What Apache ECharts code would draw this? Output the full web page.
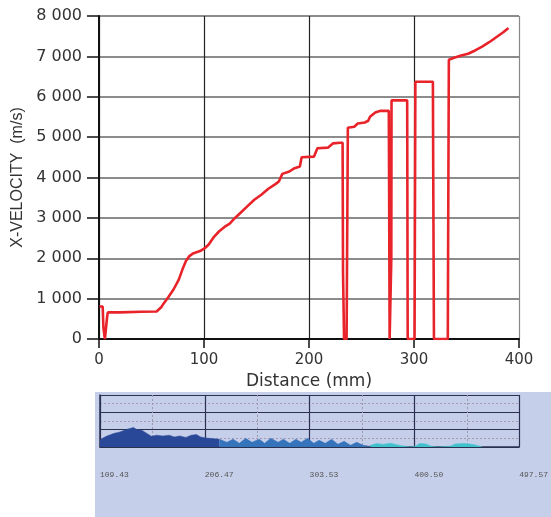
<!DOCTYPE html>
<html>
<head>
<meta charset="utf-8">
<script src="https://cdn.jsdelivr.net/npm/echarts@6/dist/echarts.min.js"></script>
<style>
html,body{margin:0;padding:0;background:#ffffff;}
#chart{width:551px;height:517px;}
</style>
</head>
<body>
<div id="chart"></div>
<script>
// ---- Main chart data: distance (mm) vs X-velocity (m/s) ----
var distance = [0.5, 3.5, 4.2, 5.2, 5.6, 7.3, 7.8, 8.4, 20, 40, 54.9, 56.1, 59.7, 61.1, 66.1, 71.1, 76.1, 79.5, 82.8, 86.1, 89.5, 96.2, 101.2, 104.5, 109.5, 114.5, 119.5, 124.5, 129.5, 134.6, 141.2, 147.9, 154.6, 161.3, 168, 171.3, 174.6, 181.3, 186.3, 191.3, 193, 204.7, 208, 218, 223, 229.7, 232, 232.4, 233, 233.4, 235.8, 236.2, 236.7, 237, 243.1, 246.4, 253.1, 256.4, 258.1, 263.1, 268.1, 276, 276.3, 276.8, 278.2, 278.4, 278.6, 293.5, 294, 300.5, 300.8, 301.3, 318, 318.3, 319, 332.2, 332.5, 333.2, 338.2, 344.9, 351.6, 358.2, 364.9, 371.6, 378.3, 385, 390];
var velocity = [805, 805, 280, 260, 0, 0, 560, 660, 660, 675, 680, 698, 800, 862, 1043, 1232, 1478, 1725, 1930, 2053, 2119, 2177, 2259, 2341, 2530, 2669, 2776, 2858, 2998, 3121, 3285, 3450, 3573, 3721, 3836, 3901, 4090, 4148, 4230, 4271, 4501, 4517, 4723, 4739, 4846, 4862, 4862, 1640, 1640, 0, 0, 1760, 1760, 5230, 5257, 5339, 5363, 5405, 5503, 5610, 5651, 5651, 3737, 0, 0, 2000, 5910, 5910, 0, 0, 2140, 6370, 6370, 4220, 0, 0, 2340, 6916, 6965, 7022, 7064, 7146, 7244, 7351, 7474, 7597, 7704];
var yTickLabels = ['0', '1 000', '2 000', '3 000', '4 000', '5 000', '6 000', '7 000', '8 000'];
var xTickLabels = ['0', '100', '200', '300', '400'];

// ---- Bottom strip data (position index 0..4, relative amplitude 0..3) ----
var stripTickLabels = ['109.43', '206.47', '303.53', '400.50', '497.57'];
var stripNavyX = [0, 0.02, 0.06, 0.13, 0.19, 0.25, 0.32, 0.35, 0.40, 0.44, 0.49, 0.54, 0.60, 0.66, 0.71, 0.76, 0.82, 0.87, 0.92, 0.96, 1.01, 1.07, 1.14];
var stripNavyY = [0.39, 0.49, 0.62, 0.78, 0.87, 1.01, 1.13, 1.01, 0.97, 0.81, 0.62, 0.68, 0.64, 0.68, 0.58, 0.64, 0.55, 0.68, 0.72, 0.58, 0.52, 0.49, 0.45];
var stripBlueX = [1.14, 1.21, 1.27, 1.33, 1.39, 1.45, 1.52, 1.57, 1.63, 1.70, 1.75, 1.81, 1.87, 1.92, 1.98, 2.04, 2.09, 2.15, 2.21, 2.27, 2.33, 2.39, 2.45, 2.51, 2.58];
var stripBlueY = [0.45, 0.27, 0.45, 0.21, 0.5, 0.27, 0.45, 0.21, 0.5, 0.27, 0.45, 0.21, 0.45, 0.27, 0.5, 0.21, 0.39, 0.21, 0.45, 0.16, 0.33, 0.1, 0.27, 0.1, 0.04];
var stripCyanX = [2.58, 2.64, 2.70, 2.77, 2.84, 2.91, 2.96, 3.01, 3.05, 3.11, 3.16, 3.22, 3.34, 3.39, 3.46, 3.53, 3.58, 3.65];
var stripCyanY = [0.1, 0.2, 0.15, 0.22, 0.12, 0.05, 0, 0.05, 0.2, 0.18, 0.05, 0, 0.05, 0.18, 0.2, 0.17, 0.12, 0];

function zip(a, b) { return a.map(function (v, i) { return [v, b[i]]; }); }

var chart = echarts.init(document.getElementById('chart'), null, { renderer: 'canvas' });
var WIDE = 'DejaVu Sans';
var NARROW = 'Liberation Sans';

var option = {
  animation: false,
  backgroundColor: '#ffffff',
  graphic: [
    { type: 'rect', z: -10, shape: { x: 95, y: 392, width: 456, height: 125 }, style: { fill: '#c5cfe9' } }
  ],
  grid: [
    { left: 99, right: 32, top: 16, bottom: 178, containLabel: false },
    { left: 100, right: 29, top: 395, height: 52, containLabel: false }
  ],
  xAxis: [
    {
      gridIndex: 0, type: 'value', min: 0, max: 400, interval: 100,
      name: 'Distance (mm)', nameLocation: 'middle', nameGap: 34,
      nameTextStyle: { fontFamily: WIDE, fontSize: 17, color: '#333' },
      axisLine: { show: true, lineStyle: { color: '#111', width: 2 } },
      axisTick: { show: true, length: 9, lineStyle: { color: '#111', width: 1.5 } },
      axisLabel: { margin: 14, fontFamily: WIDE, fontSize: 15, color: '#333',
        formatter: function (v) { return xTickLabels[Math.round(v / 100)]; } },
      splitLine: { show: true, lineStyle: { color: ['#222', '#222', '#222', '#222', '#888'], width: 1.2 } }
    },
    {
      gridIndex: 1, type: 'value', min: 0, max: 4, interval: 1,
      axisLine: { show: true, onZero: false, lineStyle: { color: '#2b3050', width: 1.5 } },
      axisTick: { show: false },
      axisLabel: { margin: 24, align: 'left', fontFamily: 'Liberation Mono', fontSize: 8, color: '#555',
        formatter: function (v) { return stripTickLabels[Math.round(v)]; }, hideOverlap: false },
      splitLine: { show: true, lineStyle: { color: '#2b3050', width: 1.2 } },
      minorTick: { show: false, splitNumber: 2 },
      minorSplitLine: { show: true, lineStyle: { color: '#9a9ab0', width: 1, type: [2, 2] } }
    }
  ],
  yAxis: [
    {
      gridIndex: 0, type: 'value', min: 0, max: 8000, interval: 1000,
      name: 'X-VELOCITY  (m/s)', nameLocation: 'middle', nameGap: 72,
      nameTextStyle: { fontFamily: NARROW, fontSize: 16, color: '#333' },
      axisLine: { show: true, lineStyle: { color: '#111', width: 2 } },
      axisTick: { show: true, length: 12, lineStyle: { color: '#111', width: 1.5 } },
      axisLabel: { margin: 17, fontFamily: WIDE, fontSize: 16, color: '#333',
        formatter: function (v) { return yTickLabels[Math.round(v / 1000)]; } },
      splitLine: { show: true, lineStyle: { color: '#8c8c8c', width: 2 } }
    },
    {
      gridIndex: 1, type: 'value', min: 0, max: 3, interval: 1,
      axisLine: { show: true, lineStyle: { color: '#2b3050', width: 1.5 } },
      axisTick: { show: false },
      axisLabel: { show: false },
      splitLine: { show: true, lineStyle: { color: '#2b3050', width: 1.2 } },
      minorTick: { show: false, splitNumber: 2 },
      minorSplitLine: { show: true, lineStyle: { color: '#a898b0', width: 1, type: [2, 2] } }
    }
  ],
  series: [
    {
      type: 'line', xAxisIndex: 0, yAxisIndex: 0,
      data: zip(distance, velocity),
      showSymbol: false, symbol: 'none',
      lineStyle: { color: '#e8232a', width: 2.6 },
      z: 5
    },
    {
      type: 'line', xAxisIndex: 1, yAxisIndex: 1, data: zip(stripNavyX, stripNavyY),
      showSymbol: false, symbol: 'none', lineStyle: { width: 0.5, color: '#2a4898' },
      areaStyle: { color: '#2a4898', opacity: 1 }
    },
    {
      type: 'line', xAxisIndex: 1, yAxisIndex: 1, data: zip(stripBlueX, stripBlueY),
      showSymbol: false, symbol: 'none', lineStyle: { width: 0.5, color: '#3573bb' },
      areaStyle: { color: '#3573bb', opacity: 1 }
    },
    {
      type: 'line', xAxisIndex: 1, yAxisIndex: 1, data: zip(stripCyanX, stripCyanY),
      showSymbol: false, symbol: 'none', lineStyle: { width: 0.5, color: '#40c2cc' },
      areaStyle: { color: '#40c2cc', opacity: 1 }
    }
  ]
};
chart.setOption(option);
</script>
</body>
</html>
